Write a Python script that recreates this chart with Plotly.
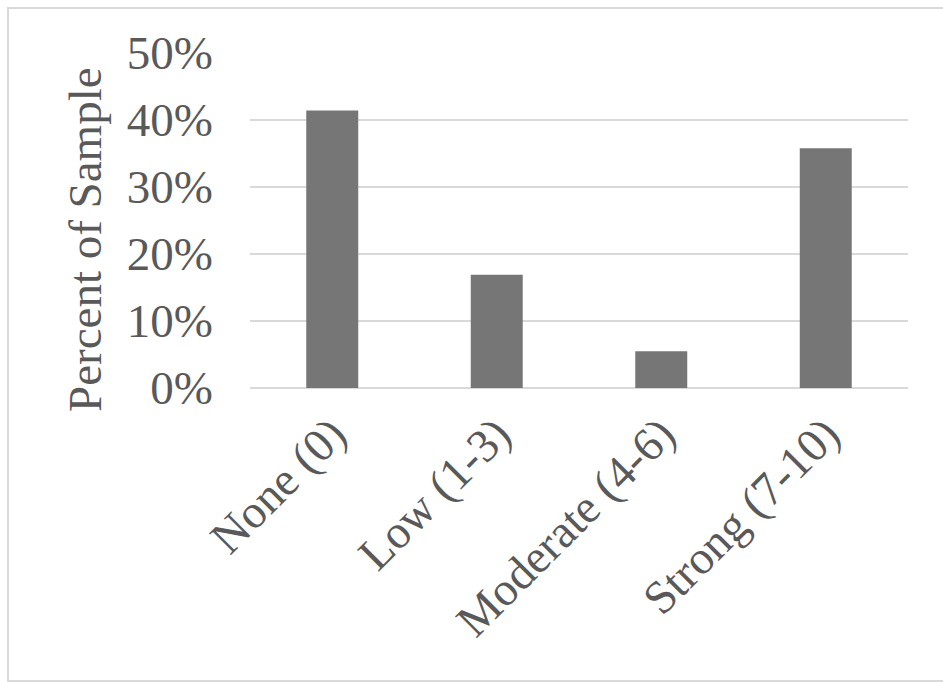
import plotly.graph_objects as go

# Share of respondents in each rating band
categories = ["None (0)", "Low (1-3)", "Moderate (4-6)", "Strong (7-10)"]
percent_of_sample = [0.414, 0.169, 0.055, 0.358]
y_ticks = [0, 0.1, 0.2, 0.3, 0.4, 0.5]
y_tick_labels = ["0%", "10%", "20%", "30%", "40%", "50%"]

TEXT_GRAY = "#595959"
GRID_GRAY = "#d9d9d9"
BAR_GRAY = "#767676"
FONT = "Liberation Serif, Times New Roman, serif"
FONT_SIZE = 47

fig = go.Figure(
    go.Bar(
        x=categories,
        y=percent_of_sample,
        marker=dict(color=BAR_GRAY, line=dict(width=0)),
        hoverinfo="skip",
    )
)

fig.update_layout(
    width=943,
    height=682,
    margin=dict(l=250, r=35, t=53, b=294),
    paper_bgcolor="white",
    plot_bgcolor="white",
    bargap=0.684,
    showlegend=False,
    font=dict(family=FONT, size=FONT_SIZE, color=TEXT_GRAY),
)

fig.update_xaxes(
    tickangle=-45,
    showgrid=False,
    showline=False,
    ticks="",
    ticklabelstandoff=8,
    tickfont=dict(family=FONT, size=FONT_SIZE, color=TEXT_GRAY),
)

fig.update_yaxes(
    range=[0, 0.5],
    tickvals=y_ticks,
    ticktext=y_tick_labels,
    showgrid=True,
    gridcolor=GRID_GRAY,
    gridwidth=2,
    zeroline=True,
    zerolinecolor=GRID_GRAY,
    zerolinewidth=2,
    showline=False,
    ticks="",
    ticklabelstandoff=36,
    tickfont=dict(family=FONT, size=FONT_SIZE, color=TEXT_GRAY),
)

# Vertical axis title
fig.add_annotation(
    text="Percent of Sample",
    textangle=-90,
    xref="paper",
    yref="paper",
    x=-0.2508,
    y=0.4448,
    xanchor="center",
    yanchor="middle",
    showarrow=False,
    font=dict(family=FONT, size=FONT_SIZE, color=TEXT_GRAY),
)

# Light chart-area frame (open on the right)
fig.add_shape(
    type="rect",
    xref="paper",
    yref="paper",
    x0=-0.3678,
    x1=1.2,
    y0=-0.8746,
    y1=1.1343,
    line=dict(color=GRID_GRAY, width=2),
    fillcolor="rgba(0,0,0,0)",
    layer="below",
)

fig.write_html("out.html")
